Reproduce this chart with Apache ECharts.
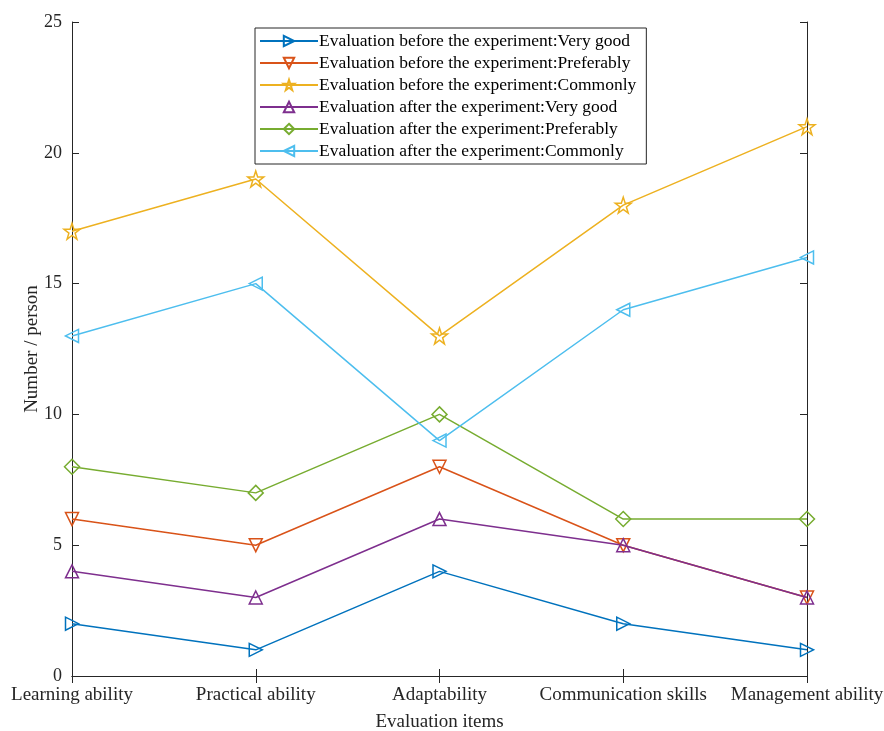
<!DOCTYPE html>
<html>
<head>
<meta charset="utf-8">
<script src="https://cdn.jsdelivr.net/npm/echarts@6/dist/echarts.min.js"></script>
<style>
html, body { margin: 0; padding: 0; background: #fff; }
#chart { width: 884px; height: 731px; }
</style>
</head>
<body>
<div id="chart"></div>
<script>
const categories = ['Learning ability', 'Practical ability', 'Adaptability', 'Communication skills', 'Management ability'];
const yTicks = [0, 5, 10, 15, 20, 25];

const seriesNames = [
	'Evaluation before the experiment:Very good',
	'Evaluation before the experiment:Preferably',
	'Evaluation before the experiment:Commonly',
	'Evaluation after the experiment:Very good',
	'Evaluation after the experiment:Preferably',
	'Evaluation after the experiment:Commonly'
];
const beforeVeryGood = [2, 1, 4, 2, 1];
const beforePreferably = [6, 5, 8, 5, 3];
const beforeCommonly = [17, 19, 13, 18, 21];
const afterVeryGood = [4, 3, 6, 5, 3];
const afterPreferably = [8, 7, 10, 6, 6];
const afterCommonly = [13, 15, 9, 14, 16];

const colors = ['#0072BD', '#D95319', '#EDB120', '#7E2F8E', '#77AC30', '#4DBEEE'];
const star = 'path://M50,0 L61.8,35.1 L99,35.1 L69.1,57 L80.3,92.4 L50,70.6 L19.7,92.4 L30.9,57 L1,35.1 L38.2,35.1 Z';
// marker, rotation, size
const markers = [
	['triangle', -90, 13],
	['triangle', 180, 13],
	[star, 0, 16],
	['triangle', 0, 13],
	['diamond', 0, 15],
	['triangle', 90, 13]
];
const allData = [beforeVeryGood, beforePreferably, beforeCommonly, afterVeryGood, afterPreferably, afterCommonly];

const font = 'Liberation Serif';
const axisColor = '#262626';

const series = allData.map((d, i) => ({
	name: seriesNames[i],
	type: 'line',
	data: d,
	symbol: markers[i][0],
	symbolRotate: markers[i][1],
	symbolSize: markers[i][2],
	showAllSymbol: true,
	lineStyle: { color: colors[i], width: 1.5 },
	itemStyle: { color: 'rgba(255,255,255,0)', borderColor: colors[i], borderWidth: 1.5 },
	emphasis: { disabled: true },
	z: 2 + i
}));

const chart = echarts.init(document.getElementById('chart'));
chart.setOption({
	animation: false,
	textStyle: { fontFamily: font },
	grid: { left: 72, right: 77, top: 22, bottom: 55, outerBoundsMode: 'none', containLabel: false },
	legend: {
		orient: 'vertical',
		left: 255,
		top: 28,
		padding: [4, 10, 4, 4],
		itemGap: 4,
		itemWidth: 58,
		itemHeight: 13,
		backgroundColor: '#fff',
		borderColor: axisColor,
		borderWidth: 1,
		textStyle: { fontFamily: font, fontSize: 17.5, color: '#000', padding: [0, 0, 0, -4] },
		data: seriesNames
	},
	xAxis: [{
		type: 'category',
		data: categories,
		boundaryGap: false,
		name: 'Evaluation items',
		nameLocation: 'middle',
		nameGap: 37,
		nameTextStyle: { fontFamily: font, fontSize: 19, color: axisColor },
		axisLine: { lineStyle: { color: axisColor, width: 1 } },
		axisTick: { inside: true, length: 7, lineStyle: { color: axisColor } },
		axisLabel: { fontFamily: font, fontSize: 19, color: axisColor, margin: 10, interval: 0 }
	}, {
		type: 'category',
		data: categories,
		boundaryGap: false,
		position: 'top',
		axisLine: { lineStyle: { color: axisColor, width: 1 } },
		axisTick: { inside: true, length: 7, lineStyle: { color: axisColor } },
		axisLabel: { show: false }
	}],
	yAxis: [{
		type: 'value',
		min: yTicks[0],
		max: yTicks[yTicks.length - 1],
		interval: 5,
		name: 'Number / person',
		nameLocation: 'middle',
		nameGap: 30,
		nameMoveOverlap: false,
		nameTextStyle: { fontFamily: font, fontSize: 19, color: axisColor },
		axisLine: { show: true, lineStyle: { color: axisColor, width: 1 } },
		axisTick: { show: true, inside: true, length: 7, lineStyle: { color: axisColor } },
		splitLine: { show: false },
		axisLabel: { fontFamily: font, fontSize: 18, color: axisColor, margin: 10 }
	}, {
		type: 'value',
		min: yTicks[0],
		max: yTicks[yTicks.length - 1],
		interval: 5,
		position: 'right',
		axisLine: { show: true, lineStyle: { color: axisColor, width: 1 } },
		axisTick: { show: true, inside: true, length: 7, lineStyle: { color: axisColor } },
		splitLine: { show: false },
		axisLabel: { show: false }
	}],
	series: series
});
</script>
</body>
</html>
